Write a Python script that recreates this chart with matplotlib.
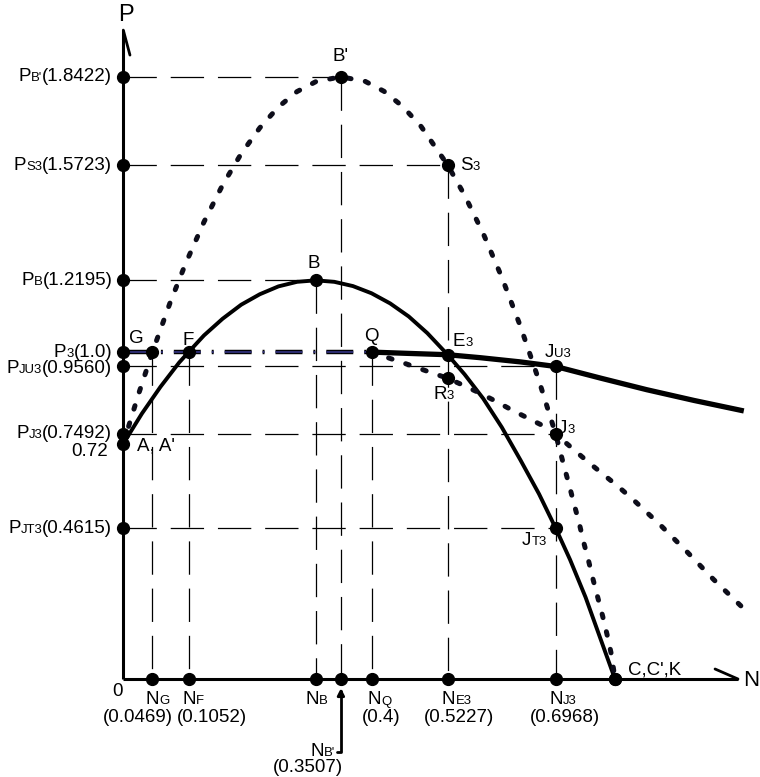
import matplotlib
matplotlib.use('Agg')
import matplotlib.pyplot as plt
from matplotlib.offsetbox import TextArea, HPacker, AnnotationBbox

# ---- data ----
# solid curve A -> B -> C
solid_n = [0.0, 0.03, 0.06, 0.09, 0.1052, 0.13, 0.16, 0.19, 0.22, 0.25, 0.28, 0.31,
           0.34, 0.37, 0.40, 0.43, 0.46, 0.49, 0.5227, 0.55, 0.58, 0.61, 0.64, 0.67,
           0.6968, 0.72, 0.745, 0.77, 0.7924]
solid_p = [0.72, 0.812, 0.894, 0.968, 1.0, 1.051, 1.102, 1.145, 1.177, 1.201, 1.215, 1.2195,
           1.215, 1.202, 1.180, 1.149, 1.109, 1.058, 0.992, 0.932, 0.858, 0.77, 0.67, 0.566,
           0.4615, 0.365, 0.25, 0.118, 0.0]

# dotted curve A' -> B' -> C'
dot_n = [0.0, 0.025, 0.0469, 0.075, 0.10, 0.13, 0.16, 0.19, 0.22, 0.25, 0.28, 0.31,
         0.3507, 0.39, 0.42, 0.45, 0.48, 0.5227, 0.55, 0.58, 0.61, 0.64, 0.67, 0.6968,
         0.7105, 0.7186, 0.7262, 0.7342, 0.7417, 0.7495, 0.7573, 0.765, 0.7727, 0.7805,
         0.7866, 0.7924]
dot_p = [0.72, 0.874, 1.0, 1.149, 1.269, 1.398, 1.511, 1.607, 1.686, 1.750, 1.797, 1.827,
         1.8422, 1.828, 1.798, 1.752, 1.690, 1.5723, 1.480, 1.363, 1.229, 1.079, 0.912, 0.7492,
         0.649, 0.593, 0.537, 0.481, 0.420, 0.364, 0.303, 0.247, 0.191, 0.129,
         0.075, 0.0]

# thick curve from Q through E3, JU3
thick_n = [0.4, 0.46, 0.5227, 0.5748, 0.64, 0.6968, 0.77, 0.8435, 0.92, 1.0]
thick_p = [1.0, 0.996, 0.992, 0.983, 0.97, 0.956, 0.92, 0.885, 0.852, 0.82]

# dotted line from Q through R3, J3
qline_n = [0.4, 0.4325, 0.462, 0.489, 0.5227, 0.5426, 0.572, 0.599, 0.626, 0.650, 0.674,
           0.6968, 0.727, 0.749, 0.7735, 0.798, 0.821, 0.8435, 0.865, 0.908, 0.951, 1.0]
qline_p = [1.0, 0.979, 0.960, 0.942, 0.92, 0.903, 0.877, 0.851, 0.823, 0.80, 0.777,
           0.7492, 0.70, 0.664, 0.626, 0.588, 0.550, 0.510, 0.472, 0.390, 0.305, 0.215]

# P3 level (dash-dot) from axis to Q
p3_n = [0.0, 0.4]
p3_p = [1.0, 1.0]

# marked points on axes
p_ticks = [1.8422, 1.5723, 1.2195, 1.0, 0.956, 0.7492, 0.72, 0.4615]
n_ticks = [0.0469, 0.1052, 0.31, 0.3507, 0.4, 0.5227, 0.6968, 0.7924]

# marked points on the curves
pt_names = ["B'", "S3", "B", "G", "F", "Q", "E3", "R3", "JU3", "J3", "JT3", "C"]
pt_n = [0.3507, 0.5227, 0.31, 0.0469, 0.1052, 0.4, 0.5227, 0.5227, 0.6968, 0.6968, 0.6968, 0.7924]
pt_p = [1.8422, 1.5723, 1.2195, 1.0, 1.0, 1.0, 0.992, 0.92, 0.956, 0.7492, 0.4615, 0.0]

# dashed guides
h_guide_p = [1.8422, 1.5723, 1.2195, 0.956, 0.7492, 0.4615]
h_guide_n = [0.3507, 0.5227, 0.31, 0.6968, 0.6968, 0.6968]
v_guide_n = [0.0469, 0.1052, 0.31, 0.3507, 0.4, 0.5227, 0.6968]
v_guide_p = [1.0, 1.0, 1.2195, 1.8422, 1.0, 1.5723, 0.956]

N_END = 0.9906
P_TOP = 1.985

# ---- figure ----
plt.rcParams['lines.scale_dashes'] = False
FONT = 'Liberation Sans'

fig = plt.figure(figsize=(7.6, 7.77), dpi=100)
ax = fig.add_axes([0, 0, 1, 1])
SX, SY = 620.5, 326.9  # px per unit
ax.set_xlim(-123.3 / SX, (760 - 123.3) / SX)
ax.set_ylim(-(777 - 679) / SY, 679 / SY)
ax.axis('off')

LONG_DASH = (0, (24, 10))
for p, n in zip(h_guide_p, h_guide_n):
    ax.plot([0, n], [p, p], color='black', lw=0.9, ls=LONG_DASH, zorder=1)
for n, p in zip(v_guide_n, v_guide_p):
    ax.plot([n, n], [p, 0], color='black', lw=0.9, ls=LONG_DASH, zorder=1)

# curves
ax.plot(solid_n, solid_p, color='black', lw=2.8, zorder=3, solid_joinstyle='round')
ax.plot(thick_n, thick_p, color='black', lw=3.8, zorder=3, solid_capstyle='butt')
DOTS = (0, (2.6, 10.4))
ax.plot(dot_n, dot_p, color='#0d0d1a', lw=3.6, ls=DOTS, dash_capstyle='round', zorder=3)
ax.plot(qline_n, qline_p, color='#0d0d1a', lw=3.6, ls=DOTS, dash_capstyle='round', zorder=3)
DASHDOT = (0, (19.4, 7.9, 1.4, 7.9))
ax.plot(p3_n, p3_p, color='black', lw=3.2, ls=DASHDOT, zorder=3)
ax.plot(p3_n, p3_p, color='#2b2b6e', lw=1.5, ls=DASHDOT, zorder=3)

# axes
ax.plot([0, N_END], [0, 0], color='black', lw=2.2, zorder=4, solid_capstyle='butt')
ax.plot([0, 0], [0, P_TOP], color='black', lw=2.2, zorder=4, solid_capstyle='butt')
ax.annotate('', xy=(0, P_TOP), xytext=(4.8, -18), textcoords='offset points',
            arrowprops=dict(arrowstyle='-', lw=2.0, shrinkA=0, shrinkB=0), zorder=4)
ax.annotate('', xy=(N_END, 0), xytext=(-16.5, 7.2), textcoords='offset points',
            arrowprops=dict(arrowstyle='-', lw=2.0, shrinkA=0, shrinkB=0), zorder=4)

# dots
ax.plot([0] * len(p_ticks), p_ticks, 'o', ms=8.5, color='black', zorder=6)
ax.plot(n_ticks, [0] * len(n_ticks), 'o', ms=8.5, color='black', zorder=6)
ax.plot(pt_n, pt_p, 'o', ms=8.5, color='black', zorder=6)


def label(parts, xy, dx, dy, align=(0.5, 0.5), size=13.5):
    # parts: list of (text, is_small); dx, dy in pixels
    kids = [TextArea(t, textprops=dict(fontsize=size * (0.7 if small else 1.0),
                                       fontfamily=FONT, color='black'))
            for t, small in parts]
    box = HPacker(children=kids, align='baseline', pad=0, sep=0)
    ab = AnnotationBbox(box, xy, xybox=(dx * 0.72, dy * 0.72), xycoords='data',
                        boxcoords='offset points', box_alignment=align,
                        frameon=False, pad=0)
    ab.set_zorder(7)
    ax.add_artist(ab)


# P axis labels
p_subs = ["B'", "S3", "B", "3", "JU3", "J3", None, "JT3"]
p_vals = ["(1.8422)", "(1.5723)", "(1.2195)", "(1.0)", "(0.9560)", "(0.7492)", "0.72", "(0.4615)"]
p_dy = [0, 0, 0, 0, -2, 1, -8, 0]
for p, sub, val, dy in zip(p_ticks, p_subs, p_vals, p_dy):
    if sub is None:
        label([(val, False)], (0, p), -15, dy, align=(1, 0.5))
    else:
        label([("P", False), (sub, True), (val, False)], (0, p), -11, dy, align=(1, 0.5))

label([("0", False)], (0, 0), -6, -12)

# N axis labels
n_subs = ["G", "F", "B", "B'", "Q", "E3", "J3"]
n_vals = ["(0.0469)", "(0.1052)", None, "(0.3507)", "(0.4)", "(0.5227)", "(0.6968)"]
n_dx = [5, 5, 1, None, 8, 9, 7]
v_dx = [-15, 23, 0, None, 10, 11, 9]
for n, sub, val, dx, vdx in zip(n_ticks, n_subs, n_vals, n_dx, v_dx):
    if dx is None:
        continue
    label([("N", False), (sub, True)], (n, 0), dx, -21)
    if val:
        label([(val, False)], (n, 0), vdx, -39)

# N_B' with elbow arrow
label([("N", False), ("B'", True)], (0.3507, 0), -6, -73, align=(1, 0.5))
label([("(0.3507)", False)], (0.3507, 0), -33, -89)
ax.annotate('', xy=(0.3507, 0), xytext=(-4 * 0.72, -73 * 0.72), textcoords='offset points',
            arrowprops=dict(arrowstyle='-|>', lw=2.0, color='black', shrinkA=0, shrinkB=6.5,
                            mutation_scale=10,
                            connectionstyle='angle,angleA=0,angleB=90,rad=0'), zorder=5)

# point labels
pt_parts = {
    "B'": [("B'", False)],
    "S3": [("S", False), ("3", True)],
    "B": [("B", False)],
    "G": [("G", False)],
    "F": [("F", False)],
    "Q": [("Q", False)],
    "E3": [("E", False), ("3", True)],
    "R3": [("R", False), ("3", True)],
    "JU3": [("J", False), ("U3", True)],
    "J3": [("J", False), ("3", True)],
    "JT3": [("J", False), ("T3", True)],
    "C": [("C,C',K", False)],
}
pt_off = {
    "B'": (0, 20, (0.5, 0.5)),
    "S3": (12, 0, (0, 0.5)),
    "B": (-2, 17, (0.5, 0.5)),
    "G": (-16, 14, (0.5, 0.5)),
    "F": (0, 12, (0.5, 0.5)),
    "Q": (0, 16, (0.5, 0.5)),
    "E3": (5, 13, (0, 0.5)),
    "R3": (-4, -16, (0.5, 0.5)),
    "JU3": (-11, 14, (0, 0.5)),
    "J3": (2, 6, (0, 0.5)),
    "JT3": (-9, -12, (1, 0.5)),
    "C": (13, 9, (0, 0.5)),
}
for name, n, p in zip(pt_names, pt_n, pt_p):
    dx, dy, al = pt_off[name]
    label(pt_parts[name], (n, p), dx, dy, align=al)

label([("A, A'", False)], (0, 0.72), 14, -2, align=(0, 0.5))

# axis names
label([("P", False)], (0, P_TOP), 3, 15, size=17)
label([("N", False)], (N_END, 0), 5, -1, align=(0, 0.5), size=16)

fig.savefig('out.png', dpi=100)
